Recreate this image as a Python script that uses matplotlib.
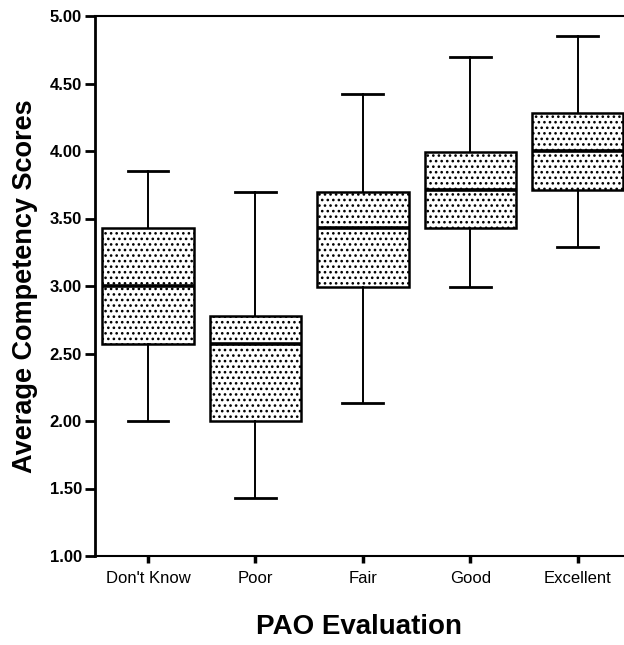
import matplotlib.pyplot as plt

categories = ["Don't Know", 'Poor', 'Fair', 'Good', 'Excellent']
whisker_low = [2.00, 1.43, 2.13, 2.99, 3.29]
q1 = [2.57, 2.00, 2.99, 3.43, 3.71]
median = [3.00, 2.57, 3.43, 3.71, 4.00]
q3 = [3.43, 2.78, 3.70, 3.99, 4.28]
whisker_high = [3.85, 3.70, 4.42, 4.70, 4.85]
yticks = [1.0, 1.5, 2.0, 2.5, 3.0, 3.5, 4.0, 4.5, 5.0]

plt.rcParams['font.family'] = ['Liberation Sans', 'DejaVu Sans']
plt.rcParams['hatch.linewidth'] = 1.1

stats = []
for i in range(len(categories)):
    stats.append({'label': categories[i], 'whislo': whisker_low[i], 'q1': q1[i],
                  'med': median[i], 'q3': q3[i], 'whishi': whisker_high[i], 'fliers': []})

fig = plt.figure(figsize=(6.24, 6.45), dpi=100)
ax = fig.add_axes([95 / 624, 1 - 556 / 645, 1 - 95 / 624, 540 / 645])

bp = ax.bxp(stats, positions=range(1, 6), widths=0.85, patch_artist=True, showfliers=False,
            boxprops=dict(facecolor='white', edgecolor='black', linewidth=1.8, hatch='...'),
            medianprops=dict(color='black', linewidth=2.6),
            whiskerprops=dict(color='black', linewidth=1.4),
            capprops=dict(color='black', linewidth=2.0),
            capwidths=0.38)

ax.set_xlim(0.507, 5.43)
ax.set_ylim(1.0, 5.0)
ax.set_yticks(yticks)
ax.set_yticklabels(['%.2f' % v for v in yticks], fontsize=12, fontweight='bold')
ax.set_xticks(range(1, 6))
ax.set_xticklabels(categories, fontsize=12)

ax.spines['right'].set_visible(False)
ax.spines['left'].set_linewidth(2.0)
ax.spines['bottom'].set_linewidth(1.5)
ax.spines['top'].set_linewidth(1.5)
ax.tick_params(axis='y', length=7.5, width=2.0, pad=2)
ax.tick_params(axis='x', length=5, width=2.5, pad=6)

ax.set_ylabel('Average Competency Scores', fontsize=19.5, fontweight='bold', labelpad=8)
ax.set_xlabel('PAO Evaluation', fontsize=20, fontweight='bold', labelpad=20)

fig.savefig('out.png', dpi=100)
